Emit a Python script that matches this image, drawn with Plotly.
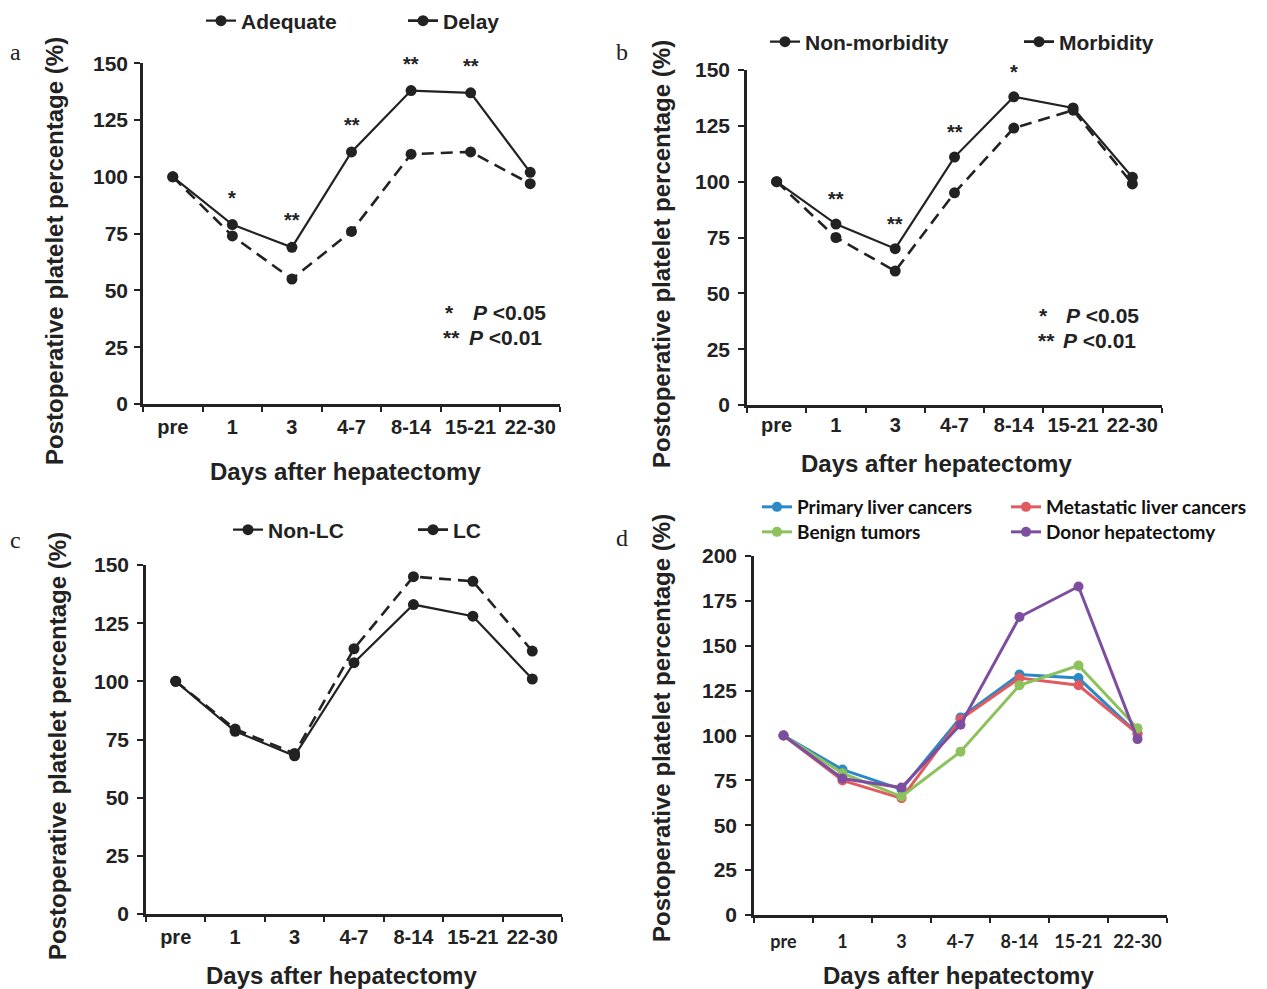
import plotly.graph_objects as go

# ---------------- data ----------------
categories = ["pre", "1", "3", "4-7", "8-14", "15-21", "22-30"]

adequate = [100, 79, 69, 111, 138, 137, 102]
delay = [100, 74, 55, 76, 110, 111, 97]
sig_a = ["", "*", "**", "**", "**", "**", ""]

non_morbidity = [100, 81, 70, 111, 138, 133, 102]
morbidity = [100, 75, 60, 95, 124, 132, 99]
sig_b = ["", "**", "**", "**", "*", "", ""]

non_lc = [100, 78.5, 68, 108, 133, 128, 101]
lc = [100, 79.5, 69, 114, 145, 143, 113]

primary = [100, 81, 70, 110, 134, 132, 101]
metastatic = [100, 75, 65, 109, 132, 128, 101]
benign = [100, 79, 66, 91, 128, 139, 104]
donor = [100, 76, 71, 106, 166, 183, 98]

# ---------------- styling ----------------
W, H = 1267, 989
OFF = 8  # page body margin offset
BLACK = "#222222"
BLUE, RED, GREEN, PURPLE = "#2b8ac6", "#e05a5f", "#8cc15c", "#7d4e9f"
ARIAL = "Liberation Sans, Arial, sans-serif"
CALIBRI = "Lato, Carlito, Calibri, sans-serif"
DASH = "12px,7px"


def fx(p):
    return (p - OFF) / W


def fy(p):
    return 1 - (p - OFF) / H


fig = go.Figure()


def add_pair(xa, ya, s1, n1, s2, n2, leg):
    fig.add_trace(go.Scatter(x=categories, y=s1, name=n1, mode="lines+markers",
                             xaxis=xa, yaxis=ya, legend=leg,
                             line=dict(color=BLACK, width=2.2),
                             marker=dict(color=BLACK, size=11)))
    fig.add_trace(go.Scatter(x=categories, y=s2, name=n2, mode="lines+markers",
                             xaxis=xa, yaxis=ya, legend=leg,
                             line=dict(color=BLACK, width=2.6, dash=DASH),
                             marker=dict(color=BLACK, size=11)))


add_pair("x", "y", adequate, "Adequate", delay, "Delay", "legend")
add_pair("x2", "y2", non_morbidity, "Non-morbidity", morbidity, "Morbidity", "legend2")
add_pair("x3", "y3", non_lc, "Non-LC", lc, "LC", "legend3")

for series, name, color, leg in [
    (primary, "Primary liver cancers", BLUE, "legend4"),
    (metastatic, "Metastatic liver cancers", RED, "legend4"),
    (benign, "Benign tumors", GREEN, "legend5"),
    (donor, "Donor hepatectomy", PURPLE, "legend5"),
]:
    fig.add_trace(go.Scatter(x=categories, y=series, name=name, mode="lines+markers",
                             xaxis="x4", yaxis="y4", legend=leg,
                             line=dict(color=color, width=3),
                             marker=dict(color=color, size=10)))

tick_font = dict(family=ARIAL, size=20, color=BLACK, weight="bold")
ytick_font = dict(family=ARIAL, size=21, color=BLACK, weight="bold")
xtick_font_d = dict(family=CALIBRI, size=18, color=BLACK, weight="bold")


def xcfg(d, anchor, font, standoff):
    return dict(domain=d, anchor=anchor, type="category", range=[-0.5, 6.5],
                categoryorder="array", categoryarray=categories,
                tickson="boundaries", ticks="outside", ticklen=5, tickwidth=2,
                tickcolor=BLACK, showline=True, linewidth=2.5, linecolor=BLACK,
                showgrid=False, zeroline=False, tickfont=font, tickangle=0,
                ticklabelstandoff=standoff, automargin=False, fixedrange=True)


def ycfg(d, anchor, top, standoff):
    return dict(domain=d, anchor=anchor, range=[0, top], tick0=0, dtick=25,
                ticks="outside", ticklen=6, tickwidth=2, tickcolor=BLACK,
                showline=True, linewidth=2.5, linecolor=BLACK, showgrid=False,
                zeroline=False, tickfont=ytick_font, ticklabelstandoff=standoff,
                automargin=False, fixedrange=True)


dom = {
    "a": ([fx(143), fx(560)], [fy(404), fy(63.3)]),
    "b": ([fx(747), fx(1162)], [fy(405), fy(70)]),
    "c": ([fx(146), fx(562)], [fy(914), fy(565)]),
    "d": ([fx(754), fx(1167)], [fy(915), fy(556)]),
}

layout = dict(
    template="none",
    width=W, height=H, margin=dict(l=0, r=0, t=0, b=0, pad=0, autoexpand=False),
    paper_bgcolor="white", plot_bgcolor="white", showlegend=True,
    xaxis=xcfg(dom["a"][0], "y", tick_font, 3), yaxis=ycfg(dom["a"][1], "x", 150, 2),
    xaxis2=xcfg(dom["b"][0], "y2", tick_font, 0), yaxis2=ycfg(dom["b"][1], "x2", 150, 4),
    xaxis3=xcfg(dom["c"][0], "y3", tick_font, 3), yaxis3=ycfg(dom["c"][1], "x3", 150, 4),
    xaxis4=xcfg(dom["d"][0], "y4", xtick_font_d, 9), yaxis4=ycfg(dom["d"][1], "x4", 200, 4),
)

leg_font = dict(family=ARIAL, size=21, color=BLACK, weight="bold")
leg_font_d = dict(family=CALIBRI, size=19, color="#111111", weight="bold")


def lcfg(xp, yp, ew, font):
    return dict(x=fx(xp), y=fy(yp), xanchor="left", yanchor="middle",
                orientation="h", entrywidth=ew, entrywidthmode="pixels",
                font=font, bgcolor="rgba(0,0,0,0)", borderwidth=0,
                tracegroupgap=0, itemclick=False, itemdoubleclick=False)


layout["legend"] = lcfg(201, 21, 157, leg_font)
layout["legend2"] = lcfg(765, 42, 209, leg_font)
layout["legend3"] = lcfg(228, 530, 140, leg_font)
layout["legend4"] = lcfg(757, 507, 204, leg_font_d)
layout["legend5"] = lcfg(757, 532, 204, leg_font_d)

fig.update_layout(**layout)

ann = []
title_font = dict(family=ARIAL, size=24, color=BLACK, weight="bold")
YT = "Postoperative platelet percentage (%)"
XT = "Days after hepatectomy"
for (xp, yp) in [(55, 251), (661, 254), (57, 746), (661, 728)]:
    ann.append(dict(xref="paper", yref="paper", x=fx(xp), y=fy(yp), text=YT,
                    textangle=-90, showarrow=False, font=title_font,
                    xanchor="center", yanchor="middle"))
for (xp, yp) in [(345, 471), (937, 463), (341, 975), (958, 975)]:
    ann.append(dict(xref="paper", yref="paper", x=fx(xp), y=fy(yp), text=XT,
                    showarrow=False, font=title_font, xanchor="center", yanchor="middle"))

# panel letters
for (lbl, xp, yp) in [("a", 15, 52), ("b", 622, 52), ("c", 15, 540), ("d", 622, 538)]:
    ann.append(dict(xref="paper", yref="paper", x=fx(xp), y=fy(yp), text=lbl,
                    showarrow=False, font=dict(family="Liberation Serif, Times New Roman, serif",
                                               size=24, color=BLACK),
                    xanchor="center", yanchor="middle"))

# significance marks (x given as category index)
star_font = dict(family=ARIAL, size=20, color=BLACK, weight="bold")
for sig, s1, s2, xa, ya, shift in [(sig_a, adequate, delay, "x", "y", 27),
                                   (sig_b, non_morbidity, morbidity, "x2", "y2", 25)]:
    for i, (s, v1, v2) in enumerate(zip(sig, s1, s2)):
        if s:
            ann.append(dict(xref=xa, yref=ya, x=i, y=max(v1, v2), text=s, yshift=shift,
                            showarrow=False, font=star_font, xanchor="center",
                            yanchor="middle"))

# p-value keys
pfont = dict(family=ARIAL, size=21, color=BLACK, weight="bold")
for (sx, px_, yp, star, ptxt) in [(449, 471, 312, "*", "<i>P</i> &lt;0.05"),
                                   (452, 467, 337, "**", "<i>P</i> &lt;0.01"),
                                   (1043, 1064, 315, "*", "<i>P</i> &lt;0.05"),
                                   (1046, 1061, 340, "**", "<i>P</i> &lt;0.01")]:
    ann.append(dict(xref="paper", yref="paper", x=fx(sx), y=fy(yp), text=star,
                    showarrow=False, font=pfont, xanchor="center", yanchor="middle"))
    ann.append(dict(xref="paper", yref="paper", x=fx(px_), y=fy(yp), text=ptxt,
                    showarrow=False, font=pfont, xanchor="left", yanchor="middle"))

fig.update_layout(annotations=ann)

fig.write_html("out.html")
